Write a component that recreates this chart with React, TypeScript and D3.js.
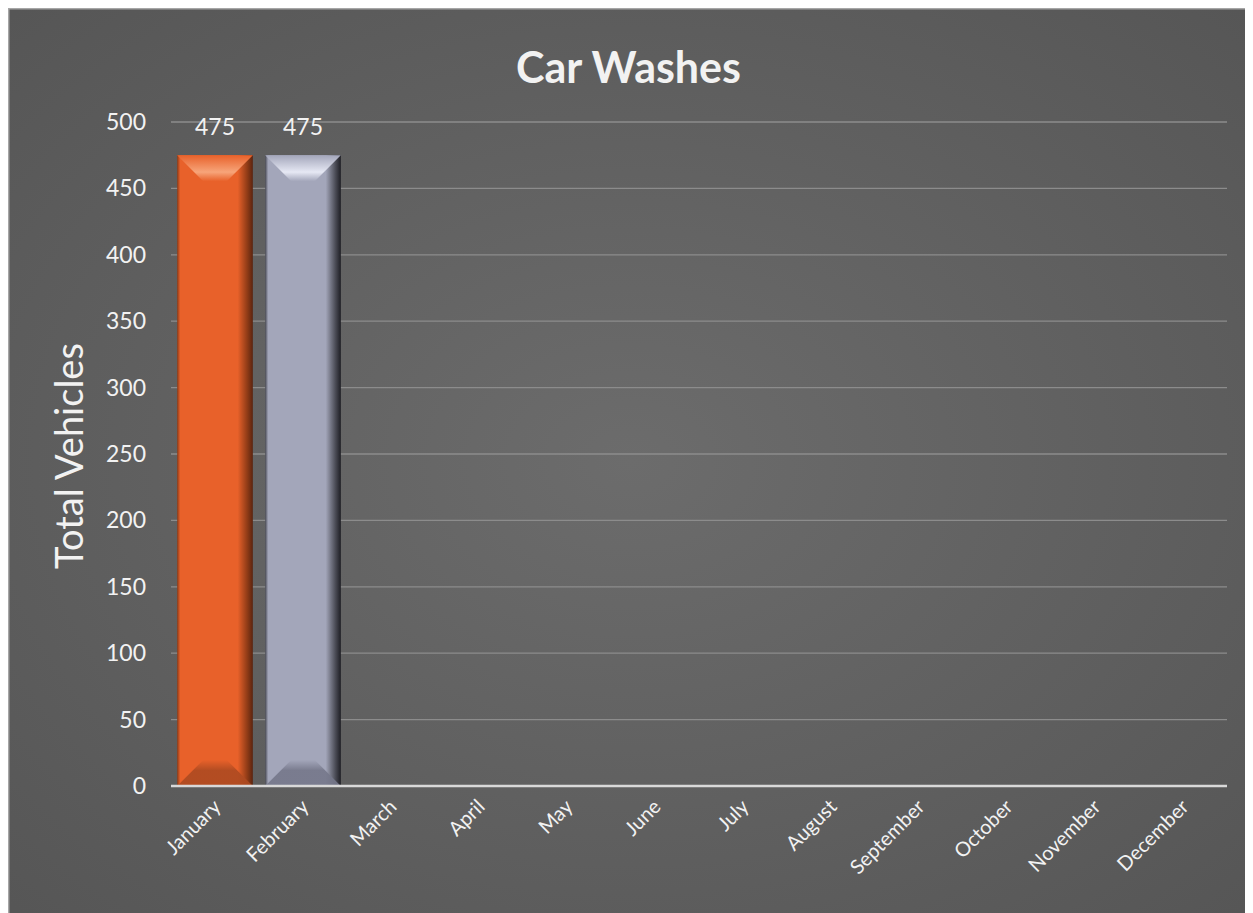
import React from "react";
import * as d3 from "d3";

const months = ["January","February","March","April","May","June","July","August","September","October","November","December"];
const values: (number | null)[] = [475, 475, null, null, null, null, null, null, null, null, null, null];
const yTicks = [0, 50, 100, 150, 200, 250, 300, 350, 400, 450, 500];
const barColors = ["orange", "gray"];

const W = 1245, H = 905;
const m = { left: 163, right: 26, top: 114, bottom: 127 };

const palettes: Record<string, any> = {
  orange: { base: "#e8612a", light: "#f7a57a", dark: "#8d3a16", darker: "#5a2410", bottom: "#ad4a21" },
  gray: { base: "#a3a6ba", light: "#e6e8f4", dark: "#4a4b55", darker: "#1e1e24", bottom: "#75778a" },
};

export default function App() {
  const x = d3.scaleBand<string>().domain(months).range([m.left, W - m.right]).paddingInner(0.14).paddingOuter(0.07);
  const y = d3.scaleLinear().domain([0, 500]).range([H - m.bottom, m.top]);
  const font = "Lato, 'Open Sans', sans-serif";
  const bev = 26;
  return (
    <svg width={W} height={H} style={{ display: "block" }}>
      <defs>
        <radialGradient id="bg" cx="50%" cy="50%" r="70%">
          <stop offset="0%" stopColor="#6c6c6c" />
          <stop offset="100%" stopColor="#565656" />
        </radialGradient>
        {barColors.map((c) => {
          const p = palettes[c];
          return (
            <React.Fragment key={c}>
              <linearGradient id={`side-${c}`} x1="0" x2="1" y1="0" y2="0">
                <stop offset="0%" stopColor={p.dark} />
                <stop offset="4%" stopColor={p.base} />
                <stop offset="50%" stopColor={p.base} />
                <stop offset="80%" stopColor={p.base} />
                <stop offset="93%" stopColor={p.dark} />
                <stop offset="100%" stopColor={p.darker} />
              </linearGradient>
              <linearGradient id={`top-${c}`} x1="0" x2="0" y1="0" y2="1">
                <stop offset="0%" stopColor={p.base} />
                <stop offset="65%" stopColor={p.light} />
                <stop offset="100%" stopColor={p.base} />
              </linearGradient>
              <linearGradient id={`bot-${c}`} x1="0" x2="0" y1="0" y2="1">
                <stop offset="0%" stopColor={p.base} />
                <stop offset="40%" stopColor={p.bottom} />
                <stop offset="100%" stopColor={p.bottom} />
              </linearGradient>
            </React.Fragment>
          );
        })}
      </defs>
      <rect x={0} y={0} width={W} height={H} fill="url(#bg)" />
      <rect x={0.5} y={0.5} width={W + 5} height={H + 5} fill="none" stroke="#a6a6a6" strokeWidth={2} />
      <text x={W / 2 - 2} y={75} textAnchor="middle" fill="#f2f2f2" fontFamily={font} fontWeight={700} fontSize={43}>Car Washes</text>
      {yTicks.map((t) => (
        <g key={t}>
          {t > 0 && <line x1={m.left} x2={W - m.right} y1={y(t)} y2={y(t)} stroke="#8c8c8c" strokeWidth={1.3} />}
          <text x={138} y={y(t) + 8} textAnchor="end" fill="#f2f2f2" fontFamily={font} fontSize={23}>{t}</text>
        </g>
      ))}
      <text transform={`translate(75,${(m.top + H - m.bottom) / 2 + 2}) rotate(-90)`} textAnchor="middle" fill="#f2f2f2" fontFamily={font} fontSize={38}>Total Vehicles</text>
      {months.map((mo, i) => {
        const v = values[i];
        if (v == null) return null;
        const c = barColors[i % barColors.length];
        const bx = x(mo)!, bw = x.bandwidth();
        const top = y(v), bot = y(0);
        return (
          <g key={mo}>
            <rect x={bx} y={top} width={bw} height={bot - top} fill={`url(#side-${c})`} />
            <polygon points={`${bx},${top} ${bx + bw},${top} ${bx + bw - bev},${top + bev} ${bx + bev},${top + bev}`} fill={`url(#top-${c})`} />
            <polygon points={`${bx},${bot} ${bx + bw},${bot} ${bx + bw - bev},${bot - bev} ${bx + bev},${bot - bev}`} fill={`url(#bot-${c})`} opacity={0.9} />
            <text x={bx + bw / 2} y={top - 20} textAnchor="middle" fill="#f2f2f2" fontFamily={font} fontSize={23}>{v}</text>
          </g>
        );
      })}
      <line x1={m.left} x2={W - m.right} y1={y(0)} y2={y(0)} stroke="#d9d9d9" strokeWidth={2.5} />
      {months.map((mo) => {
        const cx = x(mo)! + x.bandwidth() / 2 + 7;
        return (
          <text key={mo} transform={`translate(${cx},${y(0) + 22}) rotate(-45)`} textAnchor="end" fill="#f2f2f2" fontFamily={font} fontSize={20}>{mo}</text>
        );
      })}
    </svg>
  );
}
